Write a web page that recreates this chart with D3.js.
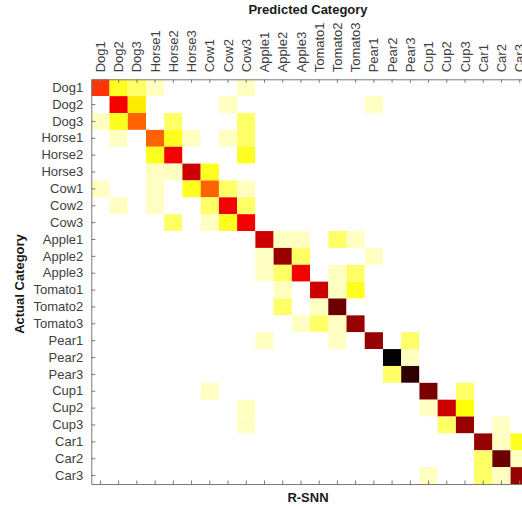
<head></head>
<body style="margin:0">
    <style>
        body { background: white; }
        .tick text { font-family: 'Liberation Sans', Arial, sans-serif; font-size: 13px; fill: #404040; }
        .axis path, .axis line { stroke: #7a7a7a; }
        .title { font-family: 'Liberation Sans', Arial, sans-serif; font-size: 13px; font-weight: bold; fill: #1a1a1a; }
    </style>
    <svg id="chart" width="522" height="509"></svg>
    <script src="https://d3js.org/d3.v7.min.js"></script>
    <script>
        // class names (same for actual rows and predicted columns)
        var categories = ["Dog1", "Dog2", "Dog3", "Horse1", "Horse2", "Horse3", "Cow1", "Cow2", "Cow3",
            "Apple1", "Apple2", "Apple3", "Tomato1", "Tomato2", "Tomato3", "Pear1", "Pear2", "Pear3",
            "Cup1", "Cup2", "Cup3", "Car1", "Car2", "Car3"];

        // confusion values (%), one row per actual category
        var matrix = [
            [55, 22, 15, 6, 0, 0, 0, 0, 6, 0, 0, 0, 0, 0, 0, 0, 0, 0, 0, 0, 0, 0, 0, 0],
            [0, 64, 28, 0, 0, 0, 0, 6, 0, 0, 0, 0, 0, 0, 0, 6, 0, 0, 0, 0, 0, 0, 0, 0],
            [6, 22, 48, 0, 15, 0, 0, 0, 15, 0, 0, 0, 0, 0, 0, 0, 0, 0, 0, 0, 0, 0, 0, 0],
            [0, 6, 0, 48, 22, 6, 0, 6, 15, 0, 0, 0, 0, 0, 0, 0, 0, 0, 0, 0, 0, 0, 0, 0],
            [0, 0, 0, 22, 64, 0, 0, 0, 22, 0, 0, 0, 0, 0, 0, 0, 0, 0, 0, 0, 0, 0, 0, 0],
            [0, 0, 0, 6, 6, 70, 22, 0, 0, 0, 0, 0, 0, 0, 0, 0, 0, 0, 0, 0, 0, 0, 0, 0],
            [6, 0, 0, 6, 0, 22, 48, 15, 6, 0, 0, 0, 0, 0, 0, 0, 0, 0, 0, 0, 0, 0, 0, 0],
            [0, 6, 0, 6, 0, 0, 15, 64, 15, 0, 0, 0, 0, 0, 0, 0, 0, 0, 0, 0, 0, 0, 0, 0],
            [0, 0, 0, 0, 15, 0, 6, 22, 64, 0, 0, 0, 0, 0, 0, 0, 0, 0, 0, 0, 0, 0, 0, 0],
            [0, 0, 0, 0, 0, 0, 0, 0, 0, 70, 6, 6, 0, 15, 6, 0, 0, 0, 0, 0, 0, 0, 0, 0],
            [0, 0, 0, 0, 0, 0, 0, 0, 0, 6, 78, 15, 0, 0, 0, 6, 0, 0, 0, 0, 0, 0, 0, 0],
            [0, 0, 0, 0, 0, 0, 0, 0, 0, 6, 15, 64, 0, 6, 15, 0, 0, 0, 0, 0, 0, 0, 0, 0],
            [0, 0, 0, 0, 0, 0, 0, 0, 0, 0, 6, 0, 70, 6, 22, 0, 0, 0, 0, 0, 0, 0, 0, 0],
            [0, 0, 0, 0, 0, 0, 0, 0, 0, 0, 15, 0, 6, 84, 0, 0, 0, 0, 0, 0, 0, 0, 0, 0],
            [0, 0, 0, 0, 0, 0, 0, 0, 0, 0, 0, 6, 15, 6, 78, 0, 0, 0, 0, 0, 0, 0, 0, 0],
            [0, 0, 0, 0, 0, 0, 0, 0, 0, 6, 0, 0, 0, 6, 0, 78, 0, 15, 0, 0, 0, 0, 0, 0],
            [0, 0, 0, 0, 0, 0, 0, 0, 0, 0, 0, 0, 0, 0, 0, 0, 100, 6, 0, 0, 0, 0, 0, 0],
            [0, 0, 0, 0, 0, 0, 0, 0, 0, 0, 0, 0, 0, 0, 0, 0, 15, 93, 0, 0, 0, 0, 0, 0],
            [0, 0, 0, 0, 0, 0, 6, 0, 0, 0, 0, 0, 0, 0, 0, 0, 0, 0, 82, 0, 15, 0, 0, 0],
            [0, 0, 0, 0, 0, 0, 0, 0, 6, 0, 0, 0, 0, 0, 0, 0, 0, 0, 6, 70, 24, 0, 0, 0],
            [0, 0, 0, 0, 0, 0, 0, 0, 6, 0, 0, 0, 0, 0, 0, 0, 0, 0, 0, 15, 78, 0, 6, 0],
            [0, 0, 0, 0, 0, 0, 0, 0, 0, 0, 0, 0, 0, 0, 0, 0, 0, 0, 0, 0, 0, 78, 6, 22],
            [0, 0, 0, 0, 0, 0, 0, 0, 0, 0, 0, 0, 0, 0, 0, 0, 0, 0, 0, 0, 0, 15, 84, 6],
            [0, 0, 0, 0, 0, 0, 0, 0, 0, 0, 0, 0, 0, 0, 0, 0, 0, 0, 6, 0, 0, 15, 6, 78]
        ];

        var xTitle = "Predicted Category";
        var yTitle = "Actual Category";
        var bottomTitle = "R-SNN";

        var svg = d3.select("#chart");
        var plotLeft = 91.3, plotTop = 79.3, cellW = 18.23, plotBottom = 484;

        var x = d3.scaleBand().domain(categories).range([plotLeft, plotLeft + cellW * categories.length]);
        var y = d3.scaleBand().domain(categories).range([plotTop, plotBottom]);

        // flipped matlab "hot": white -> yellow -> red -> black
        var hotReversed = function(t) {
            var s = 1 - t;
            var clamp = v => Math.max(0, Math.min(1, v));
            return d3.rgb(255 * clamp(s / 0.375), 255 * clamp((s - 0.375) / 0.375), 255 * clamp((s - 0.75) / 0.25));
        };
        var color = d3.scaleSequential(hotReversed).domain([0, 100]);

        var cells = [];
        matrix.forEach(function(row, i) {
            row.forEach(function(v, j) {
                cells.push({actual: categories[i], predicted: categories[j], value: v});
            });
        });

        svg.append("g").selectAll("rect").data(cells).join("rect")
            .attr("x", d => x(d.predicted))
            .attr("y", d => y(d.actual))
            .attr("width", x.bandwidth())
            .attr("height", y.bandwidth())
            .attr("fill", d => color(d.value));

        // top axis, labels rotated
        var topAxis = svg.append("g").attr("class", "axis")
            .attr("transform", `translate(0,${plotTop})`)
            .call(d3.axisTop(x).tickSizeInner(-3.5).tickSizeOuter(0));
        topAxis.selectAll(".tick text")
            .attr("transform", "rotate(-90)")
            .attr("x", 7)
            .attr("y", 0)
            .attr("dy", "0.35em")
            .attr("text-anchor", "start");

        // left axis
        svg.append("g").attr("class", "axis")
            .attr("transform", `translate(${plotLeft},0)`)
            .call(d3.axisLeft(y).tickSizeInner(-4).tickSizeOuter(0).tickPadding(8));

        // bottom axis, ticks only
        svg.append("g").attr("class", "axis")
            .attr("transform", `translate(0,${plotBottom})`)
            .call(d3.axisBottom(x).tickSizeInner(-3.5).tickSizeOuter(0).tickFormat(""));

        svg.append("text").attr("class", "title")
            .attr("x", 308).attr("y", 14)
            .attr("text-anchor", "middle")
            .text(xTitle);

        svg.append("text").attr("class", "title")
            .attr("transform", "translate(19,284) rotate(-90)")
            .attr("dy", "0.35em")
            .attr("text-anchor", "middle")
            .text(yTitle);

        svg.append("text").attr("class", "title")
            .attr("x", 308).attr("y", 502)
            .attr("text-anchor", "middle")
            .text(bottomTitle);
    </script>
</body>
